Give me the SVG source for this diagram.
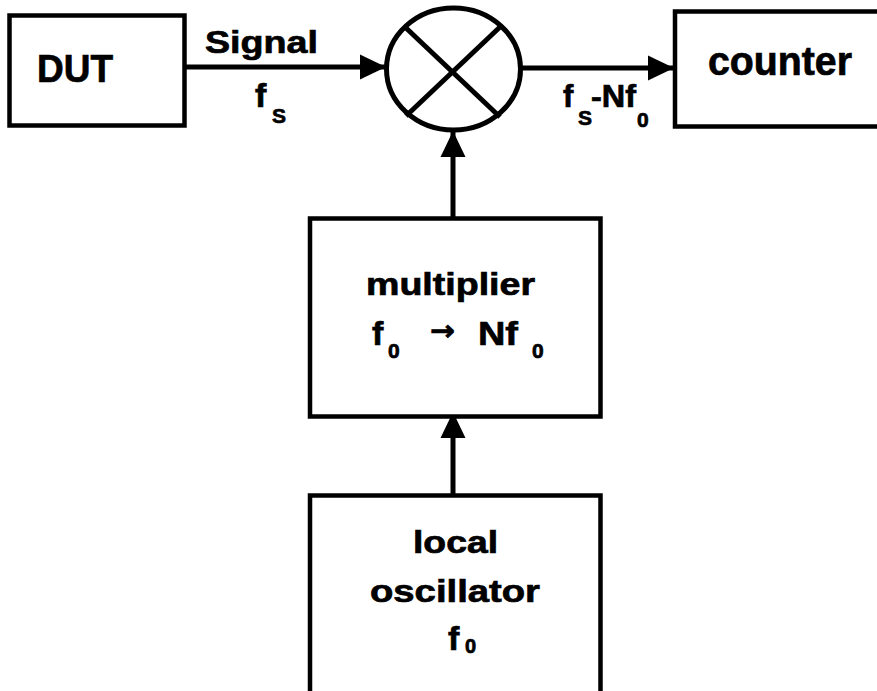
<svg xmlns="http://www.w3.org/2000/svg" width="877" height="691" viewBox="0 0 877 691">
<style>
.box{fill:#fff;stroke:#000;stroke-width:4.5}
.ln{fill:none;stroke:#000;stroke-width:5}
.t{font-family:"Liberation Sans",Arial,sans-serif;font-weight:bold;fill:#000;stroke:#000;stroke-width:0.7}
.ar{font-family:"DejaVu Sans",sans-serif}
</style>
<defs>
<marker id="ah" markerUnits="userSpaceOnUse" markerWidth="26" markerHeight="26" refX="25" refY="12.5" orient="auto" viewBox="0 0 26 25">
<path d="M0,0 L26,12.5 L0,25 Z" fill="#000"/>
</marker>
</defs>
<rect width="877" height="691" fill="#fff"/>
<g id="connectors">
<line class="ln" x1="186" y1="67" x2="385" y2="67" marker-end="url(#ah)"/>
<line class="ln" x1="522" y1="68" x2="673" y2="68" marker-end="url(#ah)"/>
<line class="ln" x1="453" y1="217" x2="453" y2="132" marker-end="url(#ah)"/>
<line class="ln" x1="453" y1="494" x2="453" y2="413" marker-end="url(#ah)"/>
</g>
<g id="dut">
<rect class="box" x="9.5" y="15.5" width="175" height="110" stroke-width="5"/>
<text class="t" x="37" y="82" font-size="39" textLength="76" lengthAdjust="spacingAndGlyphs">DUT</text>
</g>
<g id="signal-label">
<text class="t" x="205" y="53" font-size="32" textLength="113" lengthAdjust="spacingAndGlyphs">Signal</text>
<text class="t" font-size="34"><tspan x="255" y="107">f</tspan><tspan x="272" y="123" font-size="21">S</tspan></text>
</g>
<g id="mixer">
<ellipse cx="453.5" cy="69" rx="67" ry="61" fill="#fff" stroke="#000" stroke-width="5"/>
<line class="ln" x1="405" y1="27" x2="500" y2="117"/>
<line class="ln" x1="500" y1="27" x2="406" y2="116"/>
</g>
<g id="output-label">
<text class="t" font-size="31"><tspan x="563" y="107">f</tspan><tspan x="578" y="125" font-size="21">S</tspan><tspan x="591" y="107" textLength="45" lengthAdjust="spacingAndGlyphs">-Nf</tspan><tspan x="637" y="127" font-size="21">0</tspan></text>
</g>
<g id="counter">
<rect class="box" x="675" y="11.5" width="220" height="115" stroke-width="4"/>
<text class="t" x="708" y="75" font-size="40" textLength="144" lengthAdjust="spacingAndGlyphs">counter</text>
</g>
<g id="multiplier">
<rect class="box" x="310" y="218.5" width="290.5" height="198"/>
<text class="t" x="366" y="295" font-size="32" textLength="169" lengthAdjust="spacingAndGlyphs">multiplier</text>
<text class="t" font-size="34"><tspan x="372" y="345">f</tspan><tspan x="388" y="358" font-size="21">0</tspan><tspan class="ar" x="430" y="340" font-size="28" textLength="25" lengthAdjust="spacingAndGlyphs">→</tspan><tspan x="478" y="345" textLength="40" lengthAdjust="spacingAndGlyphs">Nf</tspan><tspan x="532" y="358" font-size="21">0</tspan></text>
</g>
<g id="local-oscillator">
<rect class="box" x="310" y="495.5" width="290.5" height="220"/>
<text class="t" x="413" y="553" font-size="32" textLength="85" lengthAdjust="spacingAndGlyphs">local</text>
<text class="t" x="370" y="602" font-size="32" textLength="170" lengthAdjust="spacingAndGlyphs">oscillator</text>
<text class="t" font-size="34"><tspan x="448" y="650">f</tspan><tspan x="465" y="653" font-size="20">0</tspan></text>
</g>
</svg>
